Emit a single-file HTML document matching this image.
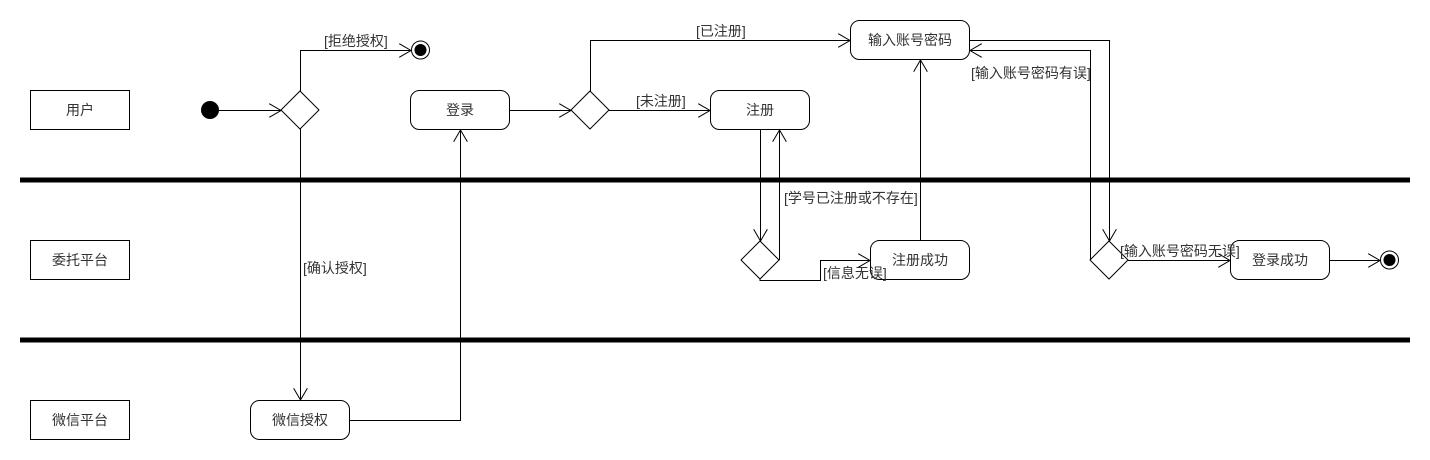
<!DOCTYPE html>
<html><head><meta charset="utf-8"><style>
html,body{margin:0;padding:0;background:#fff;width:1430px;height:460px;overflow:hidden}
text{font-family:"Liberation Sans","Noto Sans CJK SC",sans-serif;font-size:14px;fill:#333}
</style></head><body>
<svg width="1430" height="460" viewBox="0 0 1430 460" xmlns="http://www.w3.org/2000/svg">
<defs>
<marker id="a" markerWidth="14" markerHeight="14" refX="12" refY="7" orient="auto" markerUnits="userSpaceOnUse">
<path d="M0,0 L12,7 L0,14" fill="none" stroke="#000" stroke-width="1"/>
</marker>
</defs>
<g stroke="#000" stroke-width="5">
<line x1="20" y1="180" x2="1410" y2="180"/>
<line x1="20" y1="340" x2="1410" y2="340"/>
</g>
<g fill="#fff" stroke="#000" stroke-width="1">
<rect x="30.5" y="90.5" width="99" height="39"/>
<rect x="30.5" y="240.5" width="99" height="39"/>
<rect x="30.5" y="400.5" width="99" height="39"/>
<rect x="410.5" y="90.5" width="99" height="39" rx="9"/>
<rect x="710.5" y="90.5" width="99" height="39" rx="9"/>
<rect x="850.5" y="20.5" width="119" height="39" rx="9"/>
<rect x="870.5" y="240.5" width="99" height="39" rx="9"/>
<rect x="1230.5" y="240.5" width="99" height="39" rx="9"/>
<rect x="250.5" y="400.5" width="99" height="39" rx="9"/>
<polygon points="300,91 319,110 300,129 281,110"/>
<polygon points="590,91 609,110 590,129 571,110"/>
<polygon points="760,241 779,260 760,279 741,260"/>
<polygon points="1109,241 1128,260 1109,279 1090,260"/>
<circle cx="420.5" cy="50" r="9"/>
<circle cx="1389.5" cy="260" r="9"/>
</g>
<circle cx="210" cy="110" r="9" fill="#000"/>
<circle cx="420.5" cy="50" r="6" fill="#000"/>
<circle cx="1389.5" cy="260" r="6" fill="#000"/>
<g fill="none" stroke="#000" stroke-width="1" marker-end="url(#a)">
<path d="M219,110.5 H281"/>
<path d="M300.5,91 V50.5 H411"/>
<path d="M300.5,129 V400"/>
<path d="M349,420.5 H460.5 V130"/>
<path d="M509,110.5 H571"/>
<path d="M590.5,91 V40.5 H850"/>
<path d="M609,110.5 H710"/>
<path d="M760.5,130 V241"/>
<path d="M779.5,260 V130"/>
<path d="M760,279 V280.5 H820.5 V260.5 H870"/>
<path d="M920.5,240 V60"/>
<path d="M970,40.5 H1109.5 V241"/>
<path d="M1090.5,260 V50.5 H970"/>
<path d="M1128,260.5 H1230"/>
<path d="M1329,260.5 H1380"/>
</g>
<g text-anchor="middle">
<text x="80" y="115">用户</text>
<text x="80" y="265">委托平台</text>
<text x="80" y="425">微信平台</text>
<text x="460" y="115">登录</text>
<text x="760" y="115">注册</text>
<text x="910" y="45">输入账号密码</text>
<text x="920" y="265">注册成功</text>
<text x="1280" y="265">登录成功</text>
<text x="300" y="425">微信授权</text>
</g>
<text x="324" y="46">[拒绝授权]</text>
<text x="303" y="273">[确认授权]</text>
<text x="696" y="36">[已注册]</text>
<text x="636" y="106">[未注册]</text>
<text x="784" y="203">[学号已注册或不存在]</text>
<text x="823" y="278">[信息无误]</text>
<text x="971" y="78">[输入账号密码有误]</text>
<text x="1120" y="256">[输入账号密码无误]</text>
</svg>
</body></html>
